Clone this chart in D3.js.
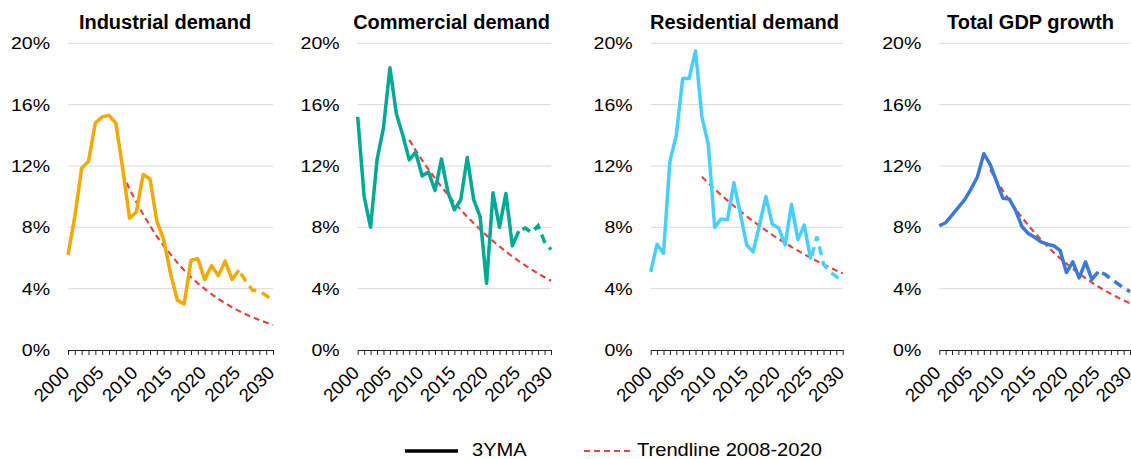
<!DOCTYPE html>
<html>
<head>
<meta charset="utf-8">
<script src="https://cdn.jsdelivr.net/npm/d3@7"></script>
<style>
  body { margin: 0; background: #fff; }
  svg { font-family: "Liberation Sans", Arial, sans-serif; }
</style>
</head>
<body>
<div id="chart"></div>
<script>
// years 2000..2030, actuals up to 2025, projection (dashed) 2025..2030
var years = d3.range(2000, 2031);
var trendYears = d3.range(2008, 2031);
var splitYear = 2025;

var titles = ["Industrial demand", "Commercial demand", "Residential demand", "Total GDP growth"];
var colors = ["#F2A900", "#00A896", "#48CFFF", "#3B78D8"];

var industrial = [6.2, 8.7, 11.85, 12.3, 14.8, 15.2, 15.3, 14.8, 11.85, 8.6, 9.0, 11.45, 11.15, 8.4, 7.2, 5.0,
  3.25, 3.0, 5.85, 5.95, 4.6, 5.5, 4.85, 5.8, 4.6, 5.2, 4.5, 3.9, 3.85, 3.55, 3.25];
var commercial = [15.2, 10.0, 8.0, 12.4, 14.5, 18.4, 15.4, 14.0, 12.4, 12.9, 11.35, 11.6, 10.4, 12.45, 10.3, 9.15,
  9.8, 12.55, 9.8, 8.7, 4.35, 10.25, 8.0, 10.2, 6.8, 7.75, 7.95, 7.65, 8.1, 7.05, 6.55];
var residential = [5.1, 6.9, 6.3, 12.3, 14.0, 17.7, 17.7, 19.5, 15.2, 13.4, 8.0, 8.55, 8.5, 10.9, 8.9, 6.85,
  6.4, 8.15, 10.0, 8.2, 7.95, 6.85, 9.5, 7.2, 8.15, 5.9, 7.4, 5.6, 5.1, 4.8, 4.45];
var gdp = [8.1, 8.3, 8.8, 9.3, 9.8, 10.5, 11.3, 12.8, 12.1, 11.0, 9.9, 9.85, 9.1, 8.05, 7.6, 7.35,
  7.05, 6.9, 6.8, 6.5, 5.05, 5.75, 4.7, 5.75, 4.6, 5.1, 4.95, 4.65, 4.35, 4.05, 3.8];

var industrialTrend = [11.5, 10.5, 9.65, 8.85, 8.1, 7.4, 6.8, 6.25, 5.7, 5.2, 4.75, 4.35, 3.98, 3.64, 3.33,
  3.05, 2.79, 2.55, 2.33, 2.14, 1.96, 1.79, 1.63];
var commercialTrend = [13.7, 13.02, 12.38, 11.77, 11.19, 10.64, 10.12, 9.62, 9.14, 8.69, 8.27, 7.86, 7.47,
  7.1, 6.75, 6.42, 6.1, 5.8, 5.52, 5.24, 4.99, 4.74, 4.51];
var residentialTrend = [11.3, 10.89, 10.49, 10.11, 9.74, 9.39, 9.05, 8.72, 8.4, 8.09, 7.8, 7.51, 7.24, 6.98,
  6.72, 6.48, 6.24, 6.01, 5.79, 5.58, 5.38, 5.18, 5.0];
var gdpTrend = [11.75, 11.05, 10.39, 9.78, 9.19, 8.65, 8.13, 7.65, 7.19, 6.77, 6.36, 5.98, 5.63, 5.29, 4.98,
  4.68, 4.4, 4.14, 3.89, 3.66, 3.44, 3.24, 3.05];

var yTicks = [0, 4, 8, 12, 16, 20];
var xTickLabels = [2000, 2005, 2010, 2015, 2020, 2025, 2030];
var legendLabels = ["3YMA", "Trendline 2008-2020"];

var series = [industrial, commercial, residential, gdp];
var trends = [industrialTrend, commercialTrend, residentialTrend, gdpTrend];

// panel plot areas (left, right) in px
var panels = [
  { x0: 68, x1: 273, titleX: 165 },
  { x0: 357.7, x1: 551, titleX: 451.5 },
  { x0: 650.7, x1: 842.7, titleX: 744.5 },
  { x0: 939.3, x1: 1130, titleX: 1030.5 }
];
var plotTop = 43.3, plotBottom = 350;
var trendColor = "#E8433E";
var font = "Liberation Sans, Arial, sans-serif";
var stretch = 1.15; // labels in the reference are a little wide

var svg = d3.select("#chart").append("svg")
  .attr("width", 1131)
  .attr("height", 459);

var y = d3.scaleLinear().domain([0, 20]).range([plotBottom, plotTop]);

panels.forEach(function (p, i) {
  var x = d3.scaleLinear().domain([2000, 2030]).range([p.x0, p.x1]);
  var g = svg.append("g");

  /* gridlines */
  g.selectAll(".grid")
    .data(yTicks.filter((t) => t > 0))
    .enter()
    .append("line")
    .attr("x1", p.x0)
    .attr("x2", p.x1)
    .attr("y1", (d) => y(d))
    .attr("y2", (d) => y(d))
    .attr("stroke", "#D9D9D9")
    .attr("stroke-width", 1);

  /* y labels */
  var yAxis = d3.axisLeft(y).tickValues(yTicks).tickFormat((d) => d + "%").tickSize(0);
  var ya = g.append("g").attr("transform", `translate(${p.x0},0)`).call(yAxis);
  ya.select(".domain").remove();
  ya.selectAll("text")
    .attr("font-size", 17)
    .attr("fill", "#000")
    .attr("font-family", font)
    .attr("x", -18 / stretch)
    .attr("transform", `scale(${stretch},1)`);

  /* x axis */
  var xAxis = d3.axisBottom(x).tickValues(years).tickSize(5).tickSizeOuter(0)
    .tickFormat((d) => (xTickLabels.indexOf(d) >= 0 ? d : ""));
  var xa = g.append("g").attr("transform", `translate(0,${plotBottom})`).call(xAxis);
  xa.select(".domain").attr("stroke", "#222").attr("stroke-width", 1.2);
  xa.selectAll("line").attr("stroke", "#222");
  xa.selectAll("text")
    .attr("font-size", 18.5)
    .attr("fill", "#000")
    .attr("font-family", font)
    .attr("text-anchor", "end")
    .attr("dy", null)
    .attr("y", 0)
    .attr("transform", "translate(2,24) rotate(-45)");

  /* title */
  g.append("text")
    .attr("x", p.titleX)
    .attr("y", 29)
    .attr("text-anchor", "middle")
    .attr("font-size", 20)
    .attr("font-weight", "bold")
    .text(titles[i]);

  var line = d3.line().x((d) => x(d.year)).y((d) => y(d.v));
  var pts = years.map((yr, k) => ({ year: yr, v: series[i][k] }));

  /* trendline */
  g.append("path")
    .attr("d", line(trendYears.map((yr, k) => ({ year: yr, v: trends[i][k] }))))
    .attr("fill", "none")
    .attr("stroke", trendColor)
    .attr("stroke-width", 2.2)
    .attr("stroke-dasharray", "6,4");

  /* actuals */
  g.append("path")
    .attr("d", line(pts.filter((d) => d.year <= splitYear)))
    .attr("fill", "none")
    .attr("stroke", colors[i])
    .attr("stroke-width", 3.5)
    .attr("stroke-linejoin", "round");

  /* projection */
  g.append("path")
    .attr("d", line(pts.filter((d) => d.year >= splitYear)))
    .attr("fill", "none")
    .attr("stroke", colors[i])
    .attr("stroke-width", 3.5)
    .attr("stroke-dasharray", "9,6")
    .attr("stroke-dashoffset", -4);
});

/* legend */
var lg = svg.append("g");
lg.append("line")
  .attr("x1", 405).attr("x2", 458).attr("y1", 451).attr("y2", 451)
  .attr("stroke", "#000").attr("stroke-width", 3.5);
lg.append("text")
  .attr("transform", `translate(472,456) scale(${stretch},1)`)
  .attr("font-size", 17.5)
  .text(legendLabels[0]);
lg.append("line")
  .attr("x1", 584).attr("x2", 634).attr("y1", 451).attr("y2", 451)
  .attr("stroke", trendColor).attr("stroke-width", 2.2).attr("stroke-dasharray", "6,4");
lg.append("text")
  .attr("transform", `translate(637,456) scale(${stretch},1)`)
  .attr("font-size", 17.5)
  .text(legendLabels[1]);
</script>
</body>
</html>
